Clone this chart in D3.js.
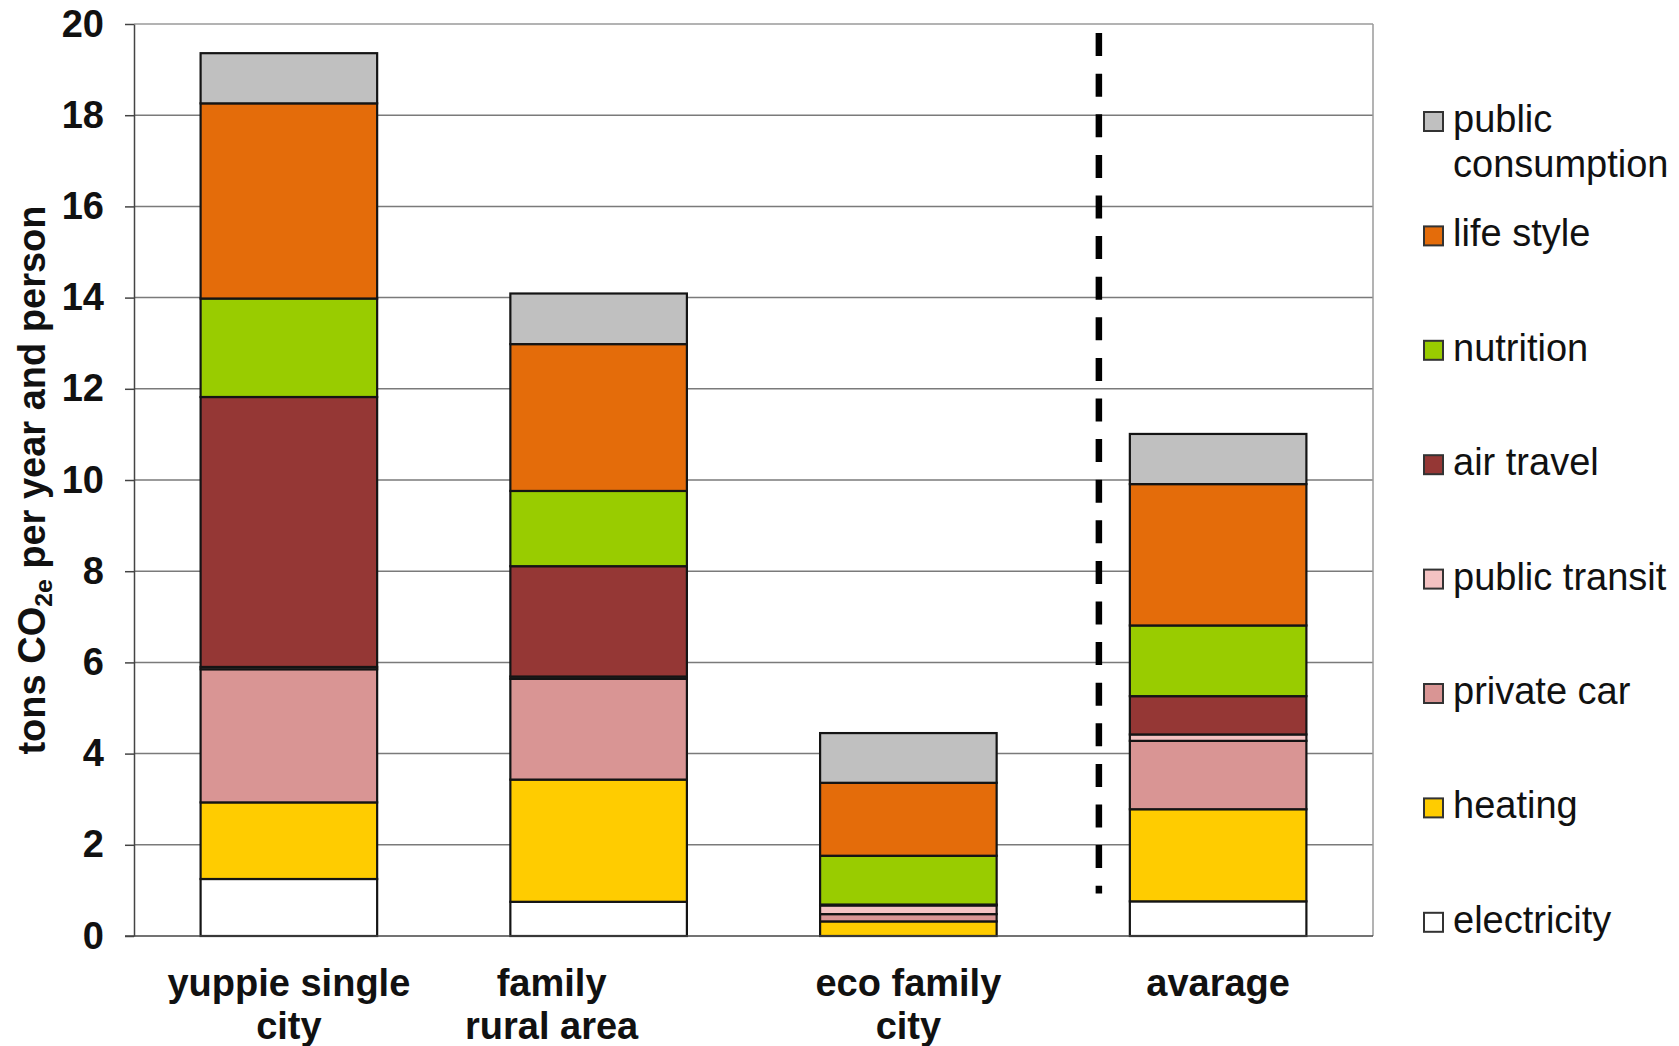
<!DOCTYPE html>
<html>
<head>
<meta charset="utf-8">
<script src="https://cdn.jsdelivr.net/npm/d3@7"></script>
<style>
  html, body { margin: 0; padding: 0; background: #fff; }
  svg { display: block; font-family: "Liberation Sans", Arial, sans-serif; }
</style>
</head>
<body>
<svg id="chart" width="1679" height="1046"></svg>
<script>
// ---------- data ----------
const categories = ["yuppie single city", "family rural area", "eco family city", "avarage"];
const categoryLines = [["yuppie single", "city"], ["family", "rural area"], ["eco family", "city"], ["avarage"]];
const seriesNames = ["electricity", "heating", "private car", "public transit", "air travel", "nutrition", "life style", "public consumption"];
const legendLines = [["electricity"], ["heating"], ["private car"], ["public transit"], ["air travel"], ["nutrition"], ["life style"], ["public", "consumption"]];
const electricity       = [1.25, 0.75, 0.00, 0.76];
const heating           = [1.68, 2.68, 0.32, 2.02];
const privateCar        = [2.92, 2.21, 0.16, 1.50];
const publicTransit     = [0.05, 0.05, 0.19, 0.14];
const airTravel         = [5.92, 2.42, 0.02, 0.84];
const nutrition         = [2.16, 1.65, 1.07, 1.55];
const lifeStyle         = [4.28, 3.22, 1.60, 3.10];
const publicConsumption = [1.10, 1.11, 1.09, 1.10];
const yTicks = [0, 2, 4, 6, 8, 10, 12, 14, 16, 18, 20];
const separatorRange = [0.93, 19.8];

const seriesValues = [electricity, heating, privateCar, publicTransit, airTravel, nutrition, lifeStyle, publicConsumption];
const colors = ["#FFFFFF", "#FFCC00", "#D99594", "#F4C2C2", "#953735", "#99CC00", "#E46C0A", "#C0C0C0"];

// ---------- layout ----------
const plot = { left: 134, right: 1373, top: 24, bottom: 936 };
const FS = 38;
const svg = d3.select("#chart");

const x = d3.scaleBand().domain(categories).range([plot.left, plot.right])
  .paddingInner(0.43).paddingOuter(0.215);
const y = d3.scaleLinear().domain([0, 20]).range([plot.bottom, plot.top]);

// gridlines
svg.append("g").selectAll("line").data(yTicks.filter(t => t > 0)).join("line")
  .attr("x1", plot.left).attr("x2", plot.right)
  .attr("y1", d => y(d)).attr("y2", d => y(d))
  .attr("stroke", d => d === 20 ? "#9a9a9a" : "#7a7a7a").attr("stroke-width", 1.5);
// right border
svg.append("line").attr("x1", plot.right).attr("x2", plot.right)
  .attr("y1", plot.top).attr("y2", plot.bottom)
  .attr("stroke", "#9a9a9a").attr("stroke-width", 1.5);

// stacked data
const table = categories.map((c, i) => {
  const row = { category: c };
  seriesNames.forEach((s, k) => row[s] = seriesValues[k][i]);
  return row;
});
const stacked = d3.stack().keys(seriesNames)(table);

svg.append("g").selectAll("g").data(stacked).join("g")
  .attr("fill", (d, k) => colors[k])
  .selectAll("rect").data(d => d.filter(p => p[1] - p[0] > 0)).join("rect")
  .attr("x", d => x(d.data.category))
  .attr("width", x.bandwidth())
  .attr("y", d => y(d[1]))
  .attr("height", d => y(d[0]) - y(d[1]))
  .attr("stroke", "#141414").attr("stroke-width", 2.2);

// dashed separator
const sepX = x("avarage") - x.step() * 0.1;
svg.append("line")
  .attr("x1", sepX).attr("x2", sepX)
  .attr("y1", y(separatorRange[1])).attr("y2", y(separatorRange[0]))
  .attr("stroke", "#000").attr("stroke-width", 6.5)
  .attr("stroke-dasharray", "23 17.6");

// y axis
const yAxis = d3.axisLeft(y).tickValues(yTicks).tickSize(9).tickPadding(21).tickSizeOuter(0);
const ga = svg.append("g").attr("transform", `translate(${plot.left},0)`).call(yAxis);
ga.select(".domain").attr("stroke", "#444").attr("stroke-width", 1.5);
ga.selectAll(".tick line").attr("stroke", "#444").attr("stroke-width", 1.5);
ga.selectAll(".tick text").attr("font-size", FS).attr("font-weight", "bold")
  .attr("fill", "#111").attr("font-family", "'Liberation Sans', Arial, sans-serif");

// x axis baseline
svg.append("line").attr("x1", plot.left - 9).attr("x2", plot.right)
  .attr("y1", plot.bottom).attr("y2", plot.bottom)
  .attr("stroke", "#444").attr("stroke-width", 1.5);

// x labels
const labelShift = { "family rural area": -47 };
const xl = svg.append("g").selectAll("text").data(categories).join("text")
  .attr("text-anchor", "middle")
  .attr("font-size", FS).attr("font-weight", "bold").attr("fill", "#111")
  .attr("x", d => x(d) + x.bandwidth() / 2 + (labelShift[d] || 0))
  .attr("y", 996);
xl.each(function (d, i) {
  const t = d3.select(this);
  const cx = +t.attr("x");
  categoryLines[i].forEach((line, j) => {
    t.append("tspan").attr("x", cx).attr("dy", j === 0 ? 0 : 43).text(line);
  });
});

// y title
const yt = svg.append("text")
  .attr("transform", `translate(45,${(plot.top + plot.bottom) / 2}) rotate(-90)`)
  .attr("text-anchor", "middle").attr("font-size", FS).attr("font-weight", "bold").attr("fill", "#111");
yt.append("tspan").text("tons CO");
yt.append("tspan").attr("font-size", FS * 0.65).attr("dy", 7).text("2e");
yt.append("tspan").attr("dy", -7).text(" per year and person");

// legend
const legendOrder = d3.range(seriesNames.length).reverse();
const lg = svg.append("g").selectAll("g").data(legendOrder).join("g")
  .attr("transform", (k, i) => `translate(1424,${132 + i * 114.4})`);
lg.append("rect").attr("x", 0).attr("y", -20).attr("width", 19).attr("height", 19)
  .attr("fill", k => colors[k]).attr("stroke", "#333").attr("stroke-width", 2);
lg.append("text").attr("font-size", FS).attr("fill", "#111")
  .each(function (k) {
    const t = d3.select(this);
    legendLines[k].forEach((line, j) => {
      t.append("tspan").attr("x", 29).attr("y", j * 45).text(line);
    });
  });
</script>
</body>
</html>
